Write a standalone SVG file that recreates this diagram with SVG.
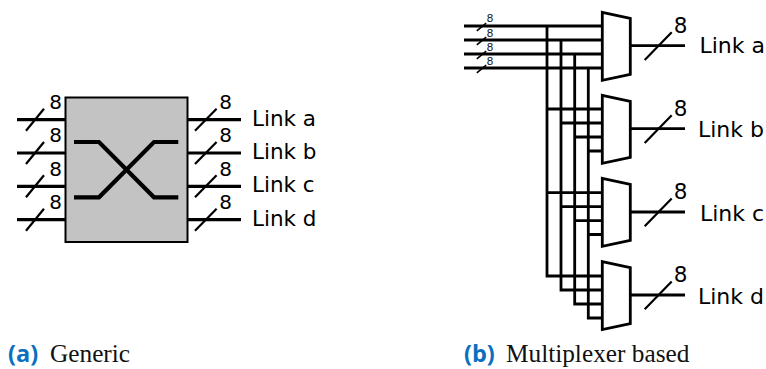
<svg xmlns="http://www.w3.org/2000/svg" width="766" height="369" viewBox="0 0 766 369">
<style>
.w{fill:none;stroke:#000;stroke-width:2.8}
.u{fill:none;stroke:#000;stroke-width:3.200}
.t{fill:none;stroke:#000;stroke-width:2.200}
.s{fill:none;stroke:#000;stroke-width:1.600}
.l{font-family:"DejaVu Sans",sans-serif;font-size:21.500px;fill:#000}
.r{font-family:"DejaVu Sans",sans-serif;font-size:22px;fill:#000}
.n{font-family:"DejaVu Sans",sans-serif;font-size:20px;fill:#000;text-anchor:middle}
.p{font-family:"DejaVu Sans",sans-serif;font-size:21.500px;fill:#000;text-anchor:middle}
.m{font-family:"DejaVu Sans",sans-serif;font-size:11px;fill:#222;text-anchor:middle}
.b{font-family:"Open Sans",sans-serif;font-weight:700;font-size:23.500px;fill:#0b6fc0}
.c{font-family:"Liberation Serif",serif;font-size:25.300px;fill:#111}
.x{fill:#fff;stroke:#000;stroke-width:2.800}
</style>
<defs>
<path id="sl" class="t" d="M-9 11 L9 -11"/>
<path id="sr" class="t" d="M-10.800 11 L10.800 -11"/>
<path id="ssl" class="s" d="M-4.700 3.900 L4.700 -3.900"/>
<path id="mux" class="x" d="M0 0 L28 6 L28 62 L0 68 Z"/>
</defs>
<g id="connectors">
<path class="u" d="M17 119.700H65M17 153H65M17 186.300H65M17 219.700H65M188 119.700H241M188 153H241M188 186.300H241M188 219.700H241"/>
<path class="w" d="M464 26H602M464 40H602M464 54H602M464 68H602"/>
<path class="w" d="M547 26V276H602M561 40V290H602M574.700 54V304H602M588.300 68V318H602"/>
<path class="w" d="M547 109H602M561 123H602M574.700 137H602M588.300 151H602M547 192.700H602M561 206.700H602M574.700 220.700H602M588.300 234.500H602"/>
<path class="w" d="M630 45.700H685M630 128.700H685M630 212H685M630 295H685"/>
<use href="#sl" x="35" y="119.700"/><use href="#sl" x="35" y="153"/><use href="#sl" x="35" y="186.300"/><use href="#sl" x="35" y="219.700"/>
<use href="#sr" x="205.800" y="119.700"/><use href="#sr" x="205.800" y="153"/><use href="#sr" x="205.800" y="186.300"/><use href="#sr" x="205.800" y="219.700"/>
<path class="t" d="M644.700 60L671.700 32.300M644.700 143L671.700 115.300M644.700 226.300L671.700 198.600M644.700 309.300L671.700 281.600"/>
<use href="#ssl" x="481.500" y="27"/><use href="#ssl" x="481.500" y="41"/><use href="#ssl" x="481.500" y="55"/><use href="#ssl" x="481.500" y="69"/>
</g>
<g id="switch">
<rect x="65.500" y="97.500" width="122" height="144.500" fill="#c3c3c3" stroke="#000" stroke-width="2"/>
<path fill="none" stroke="#000" stroke-width="4.200" d="M74 142H99L154 197.300H178.300M74 197.300H99L154 142H178.300"/>
</g>
<g id="mux-a"><use href="#mux" x="602.300" y="12.300"/></g>
<g id="mux-b"><use href="#mux" x="602.300" y="95.300"/></g>
<g id="mux-c"><use href="#mux" x="602.300" y="178.300"/></g>
<g id="mux-d"><use href="#mux" x="602.300" y="261.600"/></g>
<g id="labels-left">
<text class="n" x="55.700" y="109">8</text><text class="n" x="55.700" y="142.300">8</text><text class="n" x="55.700" y="175.600">8</text><text class="n" x="55.700" y="209">8</text>
<text class="n" x="225.700" y="109">8</text><text class="n" x="225.700" y="142.300">8</text><text class="n" x="225.700" y="175.600">8</text><text class="n" x="225.700" y="209">8</text>
<text class="l" x="252" y="125.700">Link a</text><text class="l" x="252" y="159">Link b</text><text class="l" x="252" y="192.300">Link c</text><text class="l" x="252" y="225.700">Link d</text>
</g>
<g id="labels-right">
<text class="m" x="490" y="22">8</text><text class="m" x="490" y="37">8</text><text class="m" x="490" y="51">8</text><text class="m" x="490" y="65">8</text>
<text class="p" x="680.700" y="33">8</text><text class="p" x="680.700" y="115.700">8</text><text class="p" x="680.700" y="199">8</text><text class="p" x="680.700" y="282">8</text>
<text class="r" x="699.500" y="53.300">Link a</text><text class="r" x="698" y="137.300">Link b</text><text class="r" x="700" y="220.700">Link c</text><text class="r" x="698" y="304">Link d</text>
</g>
<g id="captions">
<text class="b" x="8" y="362">(a)</text><text class="c" x="50" y="362">Generic</text>
<text class="b" x="464" y="362">(b)</text><text class="c" x="506" y="362">Multiplexer based</text>
</g>
</svg>
